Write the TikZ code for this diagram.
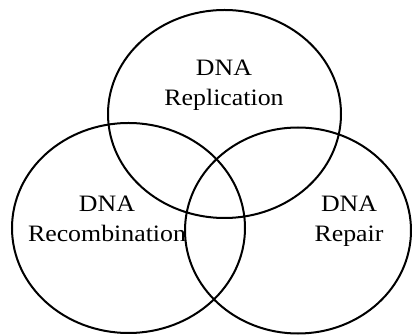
\documentclass[tikz,border=0pt]{standalone}
\usepackage{fontspec}
\setmainfont{Liberation Serif}[FakeStretch=1.1]
\usetikzlibrary{shapes.geometric}
\begin{document}
\begin{tikzpicture}[x=1pt,y=-1pt]
%
\tikzstyle{dnaset}=[draw,shape=ellipse,line width=2pt,inner sep=0pt]
\tikzstyle{dnalbl}=[align=center,font=\fontsize{23.5}{30}\selectfont,inner sep=0pt]
%
\useasboundingbox (0,0) rectangle (412,336);
%
\node[dnaset,minimum width=233pt,minimum height=208pt](repl) at (224.5,114){};
\node[dnaset,minimum width=233pt,minimum height=210pt](recomb) at (128.5,228){};
\node[dnaset,minimum width=226pt,minimum height=206pt](repair) at (298,230.5){};
%
\node[dnalbl](repltxt) at (224,85){DNA\\Replication};
\node[dnalbl](recombtxt) at (107,219){DNA\\Recombination};
\node[dnalbl](repairtxt) at (349,221){DNA\\Repair};
\end{tikzpicture}
\end{document}
